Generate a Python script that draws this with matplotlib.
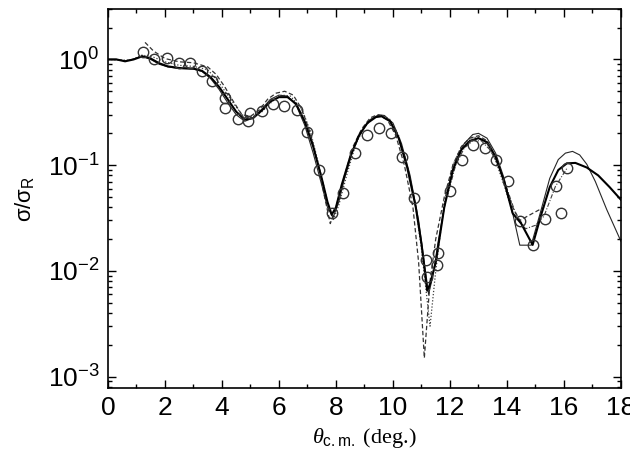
import numpy as np
import matplotlib.pyplot as plt
from matplotlib.ticker import MultipleLocator, LogLocator

plt.rcParams['font.family'] = ['Liberation Sans', 'DejaVu Sans']
plt.rcParams['mathtext.fontset'] = 'custom'
plt.rcParams['mathtext.rm'] = 'Liberation Sans'
plt.rcParams['mathtext.it'] = 'Liberation Serif:italic'
plt.rcParams['mathtext.sf'] = 'Liberation Sans'

# ── data points (open circles)
exp_theta = [1.24, 1.62, 2.06, 2.49, 2.88, 3.29, 3.66, 4.10, 4.11, 4.57, 4.92, 4.98,
             5.39, 5.78, 6.18, 6.62, 7.00, 7.40, 7.85, 8.26, 8.67, 9.10, 9.52, 9.92,
             10.30, 10.74, 11.16, 11.18, 11.56, 11.59, 12.00, 12.41, 12.82, 13.23,
             13.61, 14.05, 14.46, 14.90, 15.33, 15.72, 15.88, 16.12]
exp_sig = [1.17, 1.00, 1.04, 0.93, 0.92, 0.78, 0.62, 0.43, 0.35, 0.276, 0.26, 0.314,
           0.326, 0.38, 0.36, 0.333, 0.206, 0.090, 0.035, 0.055, 0.13, 0.192, 0.227, 0.20,
           0.12, 0.0485, 0.0128, 0.0087, 0.0114, 0.0147, 0.057, 0.112, 0.155, 0.144,
           0.112, 0.071, 0.0298, 0.0176, 0.031, 0.063, 0.035, 0.093]

# ── thick solid
a_theta = [0, 0.3, 0.6, 0.9, 1.2, 1.5, 1.8, 2.1, 2.5, 3.0, 3.3, 3.6, 3.9, 4.2, 4.5, 4.8,
           5.1, 5.4, 5.7, 6.0, 6.3, 6.6, 6.9, 7.2, 7.5, 7.7, 7.85, 8.0, 8.2, 8.5, 8.8,
           9.1, 9.4, 9.6, 9.9, 10.2, 10.5, 10.8, 11.0, 11.2, 11.3, 11.5, 11.8, 12.1,
           12.4, 12.7, 13.0, 13.3, 13.6, 13.9, 14.2, 14.5, 14.9, 15.2, 15.5, 15.8, 16.1,
           16.4, 16.8, 17.2, 17.6, 18.0]
a_sig = [1.0, 1.0, 0.96, 1.0, 1.07, 1.02, 0.92, 0.86, 0.83, 0.82, 0.78, 0.68, 0.55, 0.42,
         0.32, 0.27, 0.28, 0.33, 0.40, 0.44, 0.44, 0.38, 0.26, 0.15, 0.075, 0.045, 0.034,
         0.04, 0.065, 0.12, 0.19, 0.25, 0.285, 0.29, 0.26, 0.18, 0.095, 0.04, 0.018, 0.0065,
         0.0075, 0.012, 0.04, 0.09, 0.14, 0.17, 0.18, 0.165, 0.12, 0.07, 0.035, 0.028,
         0.0176, 0.034, 0.062, 0.09, 0.104, 0.105, 0.095, 0.08, 0.062, 0.047]

# ── thin solid
b_theta = [0, 0.3, 0.6, 0.9, 1.2, 1.5, 1.8, 2.1, 2.5, 3.0, 3.3, 3.6, 3.9, 4.2, 4.5, 4.8,
           5.1, 5.4, 5.7, 6.0, 6.3, 6.6, 6.9, 7.2, 7.5, 7.7, 7.9, 8.1, 8.3, 8.6, 8.9,
           9.2, 9.5, 9.7, 10.0, 10.3, 10.6, 10.9, 11.1, 11.25, 11.4, 11.6, 11.9, 12.2,
           12.5, 12.8, 13.0, 13.3, 13.6, 13.9, 14.2, 14.45, 14.85, 15.2, 15.5, 15.8, 16.05,
           16.3, 16.55, 16.8, 17.1, 17.5, 18.0]
b_sig = [1.0, 1.0, 0.97, 1.01, 1.08, 1.0, 0.9, 0.85, 0.82, 0.81, 0.77, 0.66, 0.52, 0.39,
         0.3, 0.26, 0.28, 0.34, 0.42, 0.46, 0.45, 0.37, 0.24, 0.13, 0.065, 0.04, 0.032,
         0.045, 0.075, 0.14, 0.21, 0.27, 0.30, 0.295, 0.25, 0.16, 0.08, 0.03, 0.012, 0.006,
         0.009, 0.02, 0.055, 0.11, 0.16, 0.195, 0.2, 0.18, 0.13, 0.075, 0.035, 0.0175,
         0.0175, 0.038, 0.075, 0.113, 0.13, 0.135, 0.125, 0.102, 0.07, 0.038, 0.019]

# ── dashed
c_theta = [1.3, 1.6, 2.0, 2.5, 3.0, 3.5, 3.8, 4.1, 4.4, 4.7, 5.0, 5.3, 5.6, 5.9, 6.2,
           6.5, 6.8, 7.1, 7.4, 7.6, 7.8, 8.0, 8.3, 8.6, 8.9, 9.2, 9.45, 9.8, 10.1, 10.4,
           10.7, 10.9, 11.1, 11.3, 11.5, 11.8, 12.1, 12.4, 12.7, 13.0, 13.3, 13.6, 13.9,
           14.2, 14.45, 14.9, 15.3]
c_sig = [1.45, 1.2, 1.02, 0.95, 0.93, 0.85, 0.72, 0.55, 0.4, 0.3, 0.29, 0.33, 0.42, 0.48,
         0.5, 0.46, 0.34, 0.2, 0.095, 0.05, 0.028, 0.04, 0.08, 0.15, 0.22, 0.28, 0.30,
         0.27, 0.19, 0.1, 0.04, 0.012, 0.0015, 0.008, 0.02, 0.05, 0.1, 0.15, 0.18, 0.19,
         0.17, 0.12, 0.07, 0.04, 0.03, 0.035, 0.04]

# ── dotted
d_theta = [0, 0.4, 0.8, 1.2, 1.6, 2.0, 2.5, 3.0, 3.5, 3.9, 4.3, 4.7, 5.0, 5.4, 5.8, 6.1,
           6.4, 6.8, 7.1, 7.4, 7.7, 7.9, 8.1, 8.4, 8.7, 9.0, 9.3, 9.6, 9.9, 10.2, 10.5,
           10.8, 11.0, 11.3, 11.5, 11.8, 12.1, 12.4, 12.7, 13.0, 13.3, 13.6, 13.9, 14.2]
d_sig = [1.0, 0.99, 0.98, 1.1, 1.05, 0.95, 0.88, 0.86, 0.8, 0.6, 0.42, 0.3, 0.28, 0.32,
         0.41, 0.46, 0.45, 0.34, 0.21, 0.1, 0.045, 0.03, 0.042, 0.085, 0.16, 0.23, 0.28,
         0.295, 0.27, 0.19, 0.1, 0.04, 0.016, 0.003, 0.01, 0.045, 0.1, 0.15, 0.18, 0.185,
         0.16, 0.11, 0.065, 0.035]

# ── dash-dot
e_theta = [11.9, 12.2, 12.5, 12.8, 13.1, 13.4, 13.7, 14.0, 14.3, 14.65, 15.0, 15.3, 15.7,
           16.1]
e_sig = [0.05, 0.1, 0.145, 0.17, 0.17, 0.14, 0.1, 0.06, 0.035, 0.025, 0.027, 0.033, 0.063,
         0.093]

fig = plt.figure(figsize=(6.3, 4.67), dpi=100)
ax = fig.add_axes([0.1714, 0.1692, 0.8143, 0.8115])

ax.plot(d_theta, d_sig, color='0.25', lw=0.9, ls=(0, (1, 1.5)))
ax.plot(c_theta, c_sig, color='0.2', lw=0.9, ls=(0, (3.5, 2)))
ax.plot(e_theta, e_sig, color='0.25', lw=0.8, ls=(0, (4, 1.5, 1, 1.5)))
ax.plot(b_theta, b_sig, color='0.15', lw=0.8)
ax.plot(a_theta, a_sig, color='black', lw=1.5)
ax.plot(exp_theta, exp_sig, 'o', mfc='none', mec='0.2', mew=1.0, ms=7.5)

ax.set_yscale('log')
ax.set_xlim(0, 18)
ax.set_ylim(7.8e-4, 3.0)
ax.xaxis.set_major_locator(MultipleLocator(2))
ax.xaxis.set_minor_locator(MultipleLocator(1))
ax.yaxis.set_major_locator(LogLocator(base=10, numticks=10))
ax.yaxis.set_minor_locator(LogLocator(base=10, subs=np.arange(2, 10), numticks=10))
ax.tick_params(which='both', direction='in', top=True, right=True, width=1.0)
ax.tick_params(which='major', length=6, labelsize=19, pad=6)
ax.tick_params(which='minor', length=3)
for s in ax.spines.values():
    s.set_linewidth(1.2)

ax.set_ylabel(r'$\mathrm{\sigma/\sigma_R}$', fontsize=16, labelpad=8)
ax.set_xlabel(r'$\mathit{\theta}_{\mathrm{c.m.}}$ (deg.)', fontsize=16,
              family='Liberation Serif', labelpad=4)

fig.savefig('out.png', dpi=100)
